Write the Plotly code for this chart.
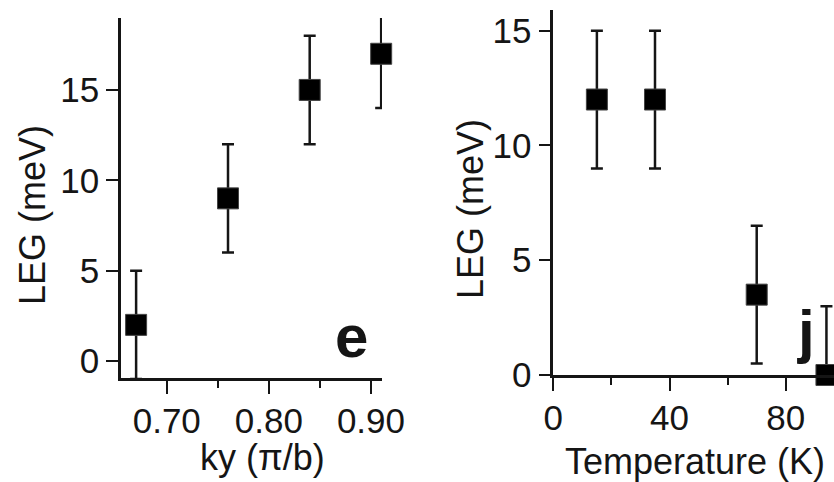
import plotly.graph_objects as go

# Panel e: leading-edge gap versus momentum ky
ky = [0.67, 0.76, 0.84, 0.91]
leg_ky = [2, 9, 15, 17]
err_ky = [3, 3, 3, 3]

# Panel j: leading-edge gap versus temperature
temperature = [15, 35, 70, 94]
leg_t = [12, 12, 3.5, 0]
err_t = [3, 3, 3, 3]

W, H = 834, 482
INK = "#151515"
FONT = "Liberation Sans, Arial, Helvetica, sans-serif"


def px_x(p):
    return p / W


def px_y(p):
    return 1 - p / H


def err(vals):
    return dict(type="data", array=vals, visible=True, color=INK,
                thickness=2.5, width=6)


fig = go.Figure()

# error bars are clipped to the plot area, markers are not
fig.add_trace(go.Scatter(x=ky, y=leg_ky, mode="markers", error_y=err(err_ky),
                         marker=dict(size=0.1, opacity=0), cliponaxis=True,
                         xaxis="x", yaxis="y", showlegend=False, hoverinfo="skip"))
fig.add_trace(go.Scatter(x=ky, y=leg_ky, mode="markers",
                         marker=dict(symbol="square", size=21, color="black",
                                     line=dict(color="#444", width=1)),
                         cliponaxis=False, xaxis="x", yaxis="y", showlegend=False))

fig.add_trace(go.Scatter(x=temperature, y=leg_t, mode="markers", error_y=err(err_t),
                         marker=dict(size=0.1, opacity=0), cliponaxis=True,
                         xaxis="x2", yaxis="y2", showlegend=False, hoverinfo="skip"))
fig.add_trace(go.Scatter(x=temperature, y=leg_t, mode="markers",
                         marker=dict(symbol="square", size=21, color="black",
                                     line=dict(color="#444", width=1)),
                         cliponaxis=False, xaxis="x2", yaxis="y2", showlegend=False))

tickfont = dict(family=FONT, size=35, color=INK)
common = dict(showgrid=False, zeroline=False, showline=True, linewidth=2.5,
              linecolor=INK, ticks="outside", tickwidth=2, tickcolor=INK,
              tickfont=tickfont)

fig.update_layout(
    width=W, height=H,
    margin=dict(l=0, r=0, t=0, b=0, autoexpand=False),
    paper_bgcolor="white", plot_bgcolor="white",
    showlegend=False,
    xaxis=dict(domain=[px_x(121), px_x(382)], range=[0.6552, 0.9108],
               tick0=0.7, dtick=0.1, tickformat=".2f", ticklen=13,
               ticklabelstandoff=-3,
               minor=dict(dtick=0.05, tick0=0.65, ticklen=7, tickwidth=2,
                          tickcolor=INK, ticks="outside"),
               anchor="y", **common),
    yaxis=dict(domain=[px_y(378), px_y(18)], range=[-0.94, 18.98],
               tickvals=[0, 5, 10, 15], ticklen=12, anchor="x", **common),
    xaxis2=dict(domain=[px_x(553.3), 1.0], range=[0, 96.6],
                tick0=0, dtick=40, ticklen=13, ticklabelstandoff=-3,
                minor=dict(dtick=20, tick0=0, ticklen=7, tickwidth=2,
                           tickcolor=INK, ticks="outside"),
                anchor="y2", **common),
    yaxis2=dict(domain=[px_y(375), px_y(10)], range=[0, 15.9],
                tickvals=[0, 5, 10, 15], ticklen=12, anchor="x2", **common),
)

title_font = dict(family=FONT, size=36, color=INK)
label_font = dict(family=FONT, size=60, color=INK)
annos = [
    dict(text="LEG (meV)", x=px_x(33), y=px_y(215), textangle=-90, font=title_font),
    dict(text="LEG (meV)", x=px_x(470), y=px_y(209), textangle=-90, font=title_font),
    dict(text="ky (π/b)", x=px_x(262), y=px_y(457), font=title_font),
    dict(text="Temperature (K)", x=px_x(695), y=px_y(461), font=title_font),
    dict(text="<b>e</b>", x=px_x(351), y=px_y(336), font=label_font),
    dict(text="<b>j</b>", x=px_x(806), y=px_y(331), font=label_font),
]
for a in annos:
    fig.add_annotation(xref="paper", yref="paper", showarrow=False,
                       xanchor="center", yanchor="middle", **a)

fig.write_html("out.html")
